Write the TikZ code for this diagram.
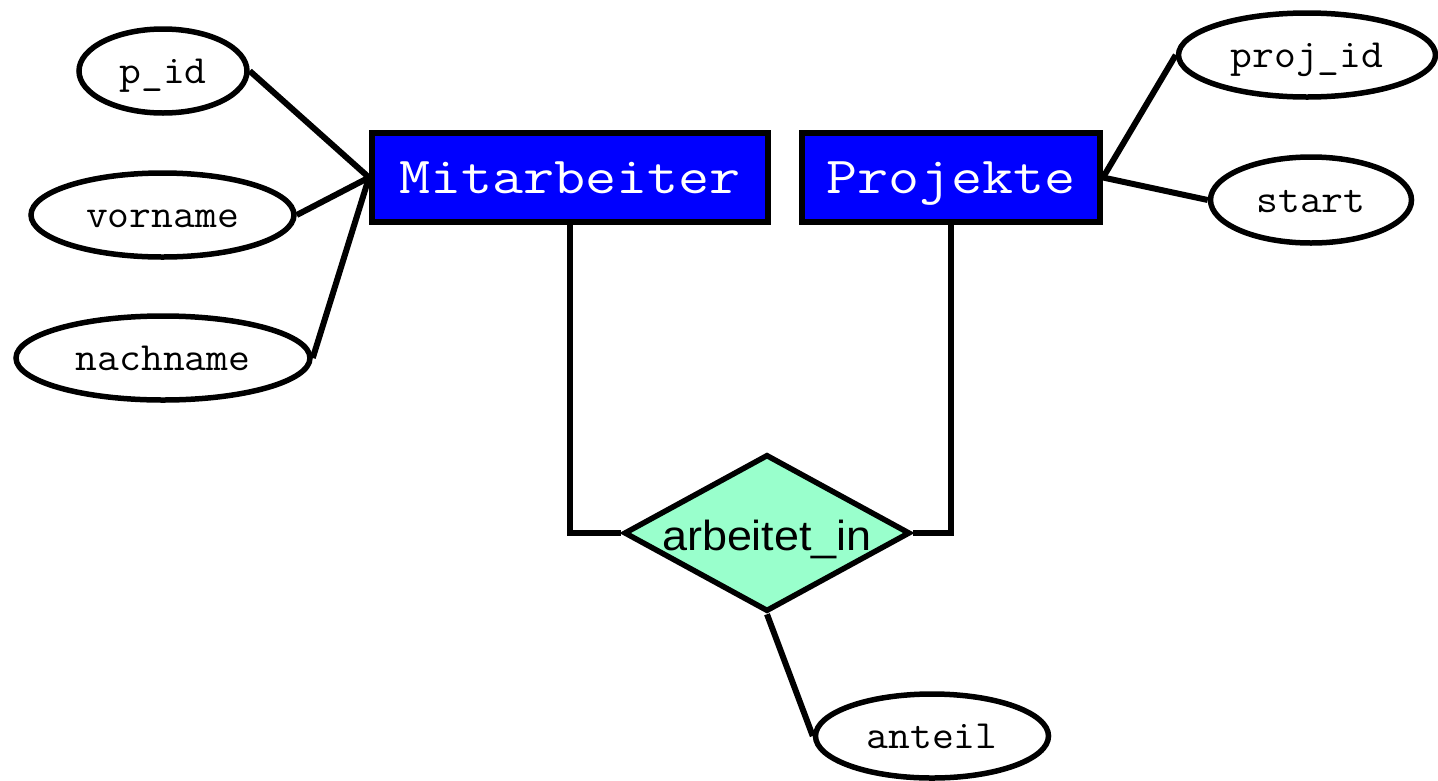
\documentclass[tikz,border=0pt]{standalone}
\usepackage{fontspec}
\setmainfont{Liberation Sans}
\usetikzlibrary{shapes.geometric}
\definecolor{entblue}{HTML}{0000FF}
\definecolor{relgreen}{HTML}{99FFCC}
\newcommand\erattrfont{\ttfamily\fontsize{40}{44}\selectfont}
\newcommand\erentfont{\ttfamily\fontsize{52}{56}\selectfont}
\newcommand\errelfont{\rmfamily\fontsize{42}{46}\selectfont}
\newcommand\erwide[1]{\scalebox{1.16}[1]{#1}}
\newcommand\erawide[1]{\scalebox{1.06}[1]{#1}}
\begin{document}
\begin{tikzpicture}[x=1pt,y=-1pt,
  attr/.style={draw, ellipse, line width=5.5pt, inner sep=0pt, font=\erattrfont,
    text height=24.4pt, text depth=0pt},
  entity/.style={draw, rectangle, fill=entblue, line width=6pt, text=white,
    minimum height=89pt, inner sep=0pt, font=\erentfont,
    text height=31.8pt, text depth=0pt},
  rel/.style={draw, diamond, fill=relgreen, line width=5.5pt, aspect=1.83,
    minimum width=286pt, minimum height=157pt, inner sep=0pt, font=\errelfont,
    text height=34pt, text depth=0pt},
  conn/.style={line width=6pt}]
\useasboundingbox (0,0) rectangle (1438,780);

\node[entity, minimum width=396pt] (mit) at (570,177.5) {\erwide{Mitarbeiter}};
\node[entity, minimum width=298pt] (proj) at (951,177.5) {\erwide{Projekte}};
\node[rel] (arb) at (767,533) {\scalebox{1.07}[1]{arbeitet\_in}};

\node[attr, minimum width=168pt, minimum height=84pt] (pid) at (163,71) {\erawide{p\_id}};
\node[attr, minimum width=263pt, minimum height=84pt] (vor) at (162.5,215) {\erawide{vorname}};
\node[attr, minimum width=294pt, minimum height=84pt] (nach) at (163,358) {\erawide{nachname}};
\node[attr, minimum width=257pt, minimum height=84pt] (projid) at (1307,55) {\erawide{proj\_id}};
\node[attr, minimum width=201pt, minimum height=86pt] (start) at (1311,200) {\erawide{start}};
\node[attr, minimum width=233pt, minimum height=84pt] (ant) at (932,736) {\erawide{anteil}};

\draw[conn] (pid.east) -- (mit.west);
\draw[conn] (vor.east) -- (mit.west);
\draw[conn] (nach.east) -- (mit.west);
\draw[conn] (proj.east) -- (projid.west);
\draw[conn] (proj.east) -- (start.west);
\draw[conn] (mit.south) |- (arb.west);
\draw[conn] (proj.south) |- (arb.east);
\draw[conn] (arb.south) -- (ant.west);
\end{tikzpicture}
\end{document}
